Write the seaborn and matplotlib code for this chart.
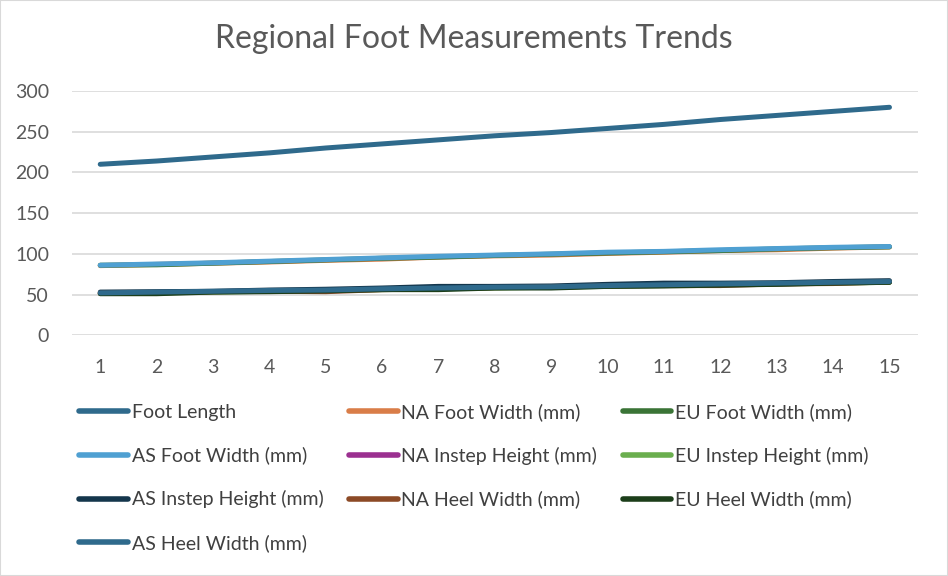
import matplotlib
matplotlib.use("Agg")
import matplotlib.pyplot as plt
import pandas as pd
import seaborn as sns
from matplotlib.lines import Line2D
from matplotlib.patches import Rectangle

# data
samples = list(range(1, 16))
foot_length = [210, 214, 219, 224, 230, 235, 240, 245, 249, 254, 259, 265, 270, 275, 280]
na_foot_width = [85.5, 87, 88.5, 90, 92, 93.5, 96, 97.5, 98.5, 100.5, 102, 104, 105, 107, 108.5]
eu_foot_width = [86, 86.5, 88.5, 90.5, 92.5, 94.5, 96, 98, 99.5, 101, 102.5, 104, 106, 107.5, 108.5]
as_foot_width = [86, 87.5, 89, 91, 93, 95, 97, 98.5, 100, 102, 103, 105, 106.5, 108, 109]
na_instep = [52, 52.5, 53.5, 54.5, 55, 56.5, 57.5, 58.5, 59, 60.5, 61.5, 62.5, 63, 64.5, 65.5]
eu_instep = [51.5, 52, 53, 54, 55, 56, 57, 58, 59, 60, 61, 62, 63, 64, 65]
as_instep = [53, 53.5, 54, 55.5, 56.5, 58, 60, 60, 60.5, 62.5, 64, 64, 64.5, 66, 67]
na_heel = [51.5, 52, 53.5, 54, 53.5, 56, 57, 58.5, 59, 60.5, 61, 61, 63, 63.5, 65.5]
eu_heel = [51, 51, 53, 53.5, 54.5, 56, 56, 58, 58, 60, 60.5, 61.5, 62.5, 64, 65]
as_heel = [52, 53, 54, 55, 55.5, 57, 58, 59, 59.5, 61, 62, 63, 64, 65, 66]

series_names = ["Foot Length", "NA Foot Width (mm)", "EU Foot Width (mm)",
                "AS Foot Width (mm)", "NA Instep Height (mm)", "EU Instep Height (mm)",
                "AS Instep Height (mm)", "NA Heel Width (mm)", "EU Heel Width (mm)",
                "AS Heel Width (mm)"]
series_values = [foot_length, na_foot_width, eu_foot_width, as_foot_width, na_instep,
                 eu_instep, as_instep, na_heel, eu_heel, as_heel]
colors = ["#2F6A8C", "#D97D48", "#3A7436", "#4FA0D2", "#9B3090",
          "#6AAE4E", "#14364C", "#8C4A26", "#1C3E1A", "#2F6A8C"]

rows = []
for name, vals in zip(series_names, series_values):
    for s, v in zip(samples, vals):
        rows.append({"sample": s, "value": v, "series": name})
df = pd.DataFrame(rows)

sns.set_style("white")
plt.rcParams["font.family"] = ["Lato", "DejaVu Sans"]

fig = plt.figure(figsize=(9.48, 5.76), dpi=100)
ax = fig.add_axes([0.076, 0.418, 0.892, 0.424])

sns.lineplot(data=df, x="sample", y="value", hue="series", hue_order=series_names,
             palette=colors, linewidth=3.6, ax=ax, legend=False, sort=False)
for ln in ax.get_lines():
    ln.set_solid_capstyle("round")
    ln.set_solid_joinstyle("round")

ax.set_xlim(0.5, 15.5)
ax.set_ylim(0, 300)
ax.set_xticks(samples)
ax.set_yticks(range(0, 301, 50))
ax.set_xlabel("")
ax.set_ylabel("")
ax.grid(axis="y", color="#D9D9D9", linewidth=1.2)
ax.set_axisbelow(True)
for sp in ax.spines.values():
    sp.set_visible(False)
ax.tick_params(axis="both", length=0, labelsize=14, labelcolor="#595959")
ax.tick_params(axis="y", pad=16.5)
ax.tick_params(axis="x", pad=17)

fig.text(0.5, 0.932, "Regional Foot Measurements Trends", ha="center", va="center",
         fontsize=23, color="#595959")

# matplotlib fills legend columns first, reorder so it reads row by row
order = [0, 3, 6, 9, 1, 4, 7, 2, 5, 8]
handles = [Line2D([0], [0], color=colors[i], linewidth=4, solid_capstyle="round") for i in order]
labels = [series_names[i] for i in order]
ax.legend(handles, labels, ncol=3, loc="upper left", bbox_to_anchor=(-0.012, -0.205),
          frameon=False, fontsize=14, labelcolor="#404040", handlelength=2.5,
          handletextpad=0.2, columnspacing=1.3, labelspacing=1.33)

fig.add_artist(Rectangle((0, 0), 1, 1, transform=fig.transFigure, fill=False,
                         edgecolor="#D9D9D9", linewidth=1.5))

fig.savefig("out.png", dpi=100)
